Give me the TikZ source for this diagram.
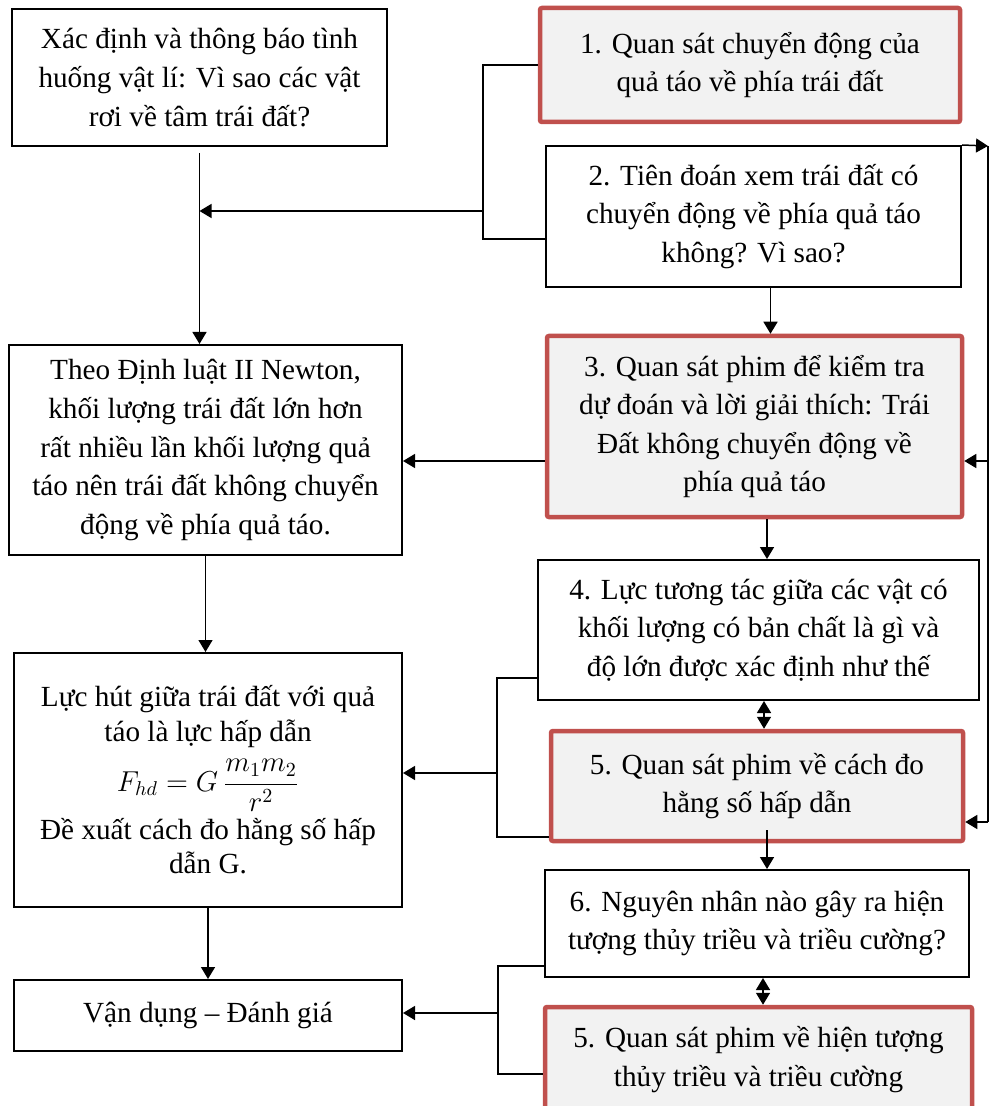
\documentclass[tikz,border=0pt]{standalone}
\usepackage{amsmath}
\usepackage{fontspec}
\setmainfont{Liberation Serif}
\usetikzlibrary{arrows.meta,calc}
\definecolor{redline}{HTML}{C0504D}
\definecolor{shade}{HTML}{F2F2F2}

\tikzset{
  plainbox/.style={draw,line width=1pt,align=center,inner sep=2pt},
  filmbox/.style={draw=redline,fill=shade,line width=2.25pt,rounded corners=1pt,align=center,inner sep=2pt},
  link/.style={line width=0.75pt},
  arr/.style={link,-{Triangle[length=6pt,width=7pt]}},
  darr/.style={link,{Triangle[length=6pt,width=7pt]}-{Triangle[length=6pt,width=7pt]}}
}

\begin{document}
\begin{tikzpicture}[x=0.5pt,y=-0.5pt,font=\fontsize{14.6}{19.3}\selectfont]
  \useasboundingbox (0,0) rectangle (998,1106);

  % left column
  \node[plainbox,minimum width=187.5pt,minimum height=68.5pt] (sit) at (199.5,77.5)
    {Xác định và thông báo tình\\ huống vật lí: Vì sao các vật\\ rơi về tâm trái đất?};
  \node[plainbox,minimum width=196.5pt,minimum height=105pt] (newton) at (205.5,450)
    {Theo Định luật II Newton,\\ khối lượng trái đất lớn hơn\\ rất nhiều lần khối lượng quả\\ táo nên trái đất không chuyển\\ động về phía quả táo.};
  \node[plainbox,minimum width=194pt,minimum height=127pt,
        font=\fontsize{14.6}{17.25}\selectfont] (grav) at (208,780)
    {Lực hút giữa trái đất với quả\\ táo là lực hấp dẫn\\[5pt]
     $\displaystyle F_{hd}=G\,\frac{m_1m_2}{r^2}$\\[2.5pt]
     Đề xuất cách đo hằng số hấp\\ dẫn G.};
  \node[plainbox,minimum width=194pt,minimum height=35.5pt] (apply) at (208,1015.5)
    {Vận dụng – Đánh giá};

  % right column
  \node[filmbox,minimum width=210pt,minimum height=57pt] (obs1) at (750,65)
    {1. Quan sát chuyển động của\\ quả táo về phía trái đất};
  \node[plainbox,minimum width=207.5pt,minimum height=70.5pt] (pred2) at (753.5,216.5)
    {2. Tiên đoán xem trái đất có\\ chuyển động về phía quả táo\\ không? Vì sao?};
  \node[filmbox,minimum width=207.5pt,minimum height=90.5pt] (film3) at (754.5,426.5)
    {3. Quan sát phim để kiểm tra\\ dự đoán và lời giải thích: Trái\\ Đất không chuyển động về\\ phía quả táo};
  \node[plainbox,minimum width=220.5pt,minimum height=70pt] (force4) at (758.5,630)
    {4. Lực tương tác giữa các vật có\\ khối lượng có bản chất là gì và\\ độ lớn được xác định như thế};
  \node[filmbox,minimum width=206pt,minimum height=55pt] (film5) at (757,786)
    {5. Quan sát phim về cách đo\\ hằng số hấp dẫn};
  \node[plainbox,minimum width=212pt,minimum height=53.5pt] (tide6) at (757,923.5)
    {6. Nguyên nhân nào gây ra hiện\\ tượng thủy triều và triều cường?};
  \node[filmbox,minimum width=213.5pt,minimum height=52.5pt] (film7) at (758.5,1059.5)
    {5. Quan sát phim về hiện tượng\\ thủy triều và triều cường};

  % left column flow
  \draw[arr] ([yshift=-3pt]sit.south) -- (sit.south |- newton.north);
  \draw[arr] (newton.south) -- (newton.south |- grav.north);
  \draw[arr] (grav.south) -- (grav.south |- apply.north);

  % bracket of 1 and 2
  \coordinate (k12) at (483,211);
  \draw[link] (obs1.west) -| (k12) |- ($(pred2.west)+(0,22.5)$);
  \draw[arr] (k12) -- (k12 -| sit.south);

  % flow on the right
  \coordinate (p23) at ($(pred2.south)+(17,0)$);
  \draw[arr] (p23) -- (p23 |- film3.north);
  \coordinate (p34) at ($(film3.south)+(12.5,0)$);
  \draw[arr] (p34) -- (p34 |- force4.north);
  \foreach \a/\b/\x in {force4/film5/764, tide6/film7/763}
    \draw[darr] (\a.south -| \x,0) -- (\b.north -| \x,0);
  \coordinate (s56) at ($(film5.south)+(10,-13)$);
  \draw[arr] (s56) -- (s56 |- tide6.north);

  % film 3 back to the left
  \draw[arr] (film3.west |- 0,461) -- (newton.east |- 0,461);

  % return line on the right edge
  \coordinate (r1) at (988,146);
  \coordinate (r2) at (988,822);
  \draw[arr] (pred2.north east) -- (r1);
  \draw[link] (r1) -- (r2);
  \draw[arr] (r1 |- 0,461) -- (film3.east |- 0,461);
  \draw[arr] (r2) -- (film5.east |- r2);

  % brackets of 4/5 and 6/7
  \coordinate (k45) at (497,773);
  \draw[link] ($(force4.west)+(0,48)$) -| (k45) |- ($(film5.west)+(0,51)$);
  \draw[arr] (k45) -- (grav.east |- k45);
  \coordinate (k67) at (498,1013);
  \draw[link] ($(tide6.west)+(0,42.5)$) -| (k67) |- ($(film7.west)+(0,14.5)$);
  \draw[arr] (k67) -- (apply.east |- k67);
\end{tikzpicture}
\end{document}
